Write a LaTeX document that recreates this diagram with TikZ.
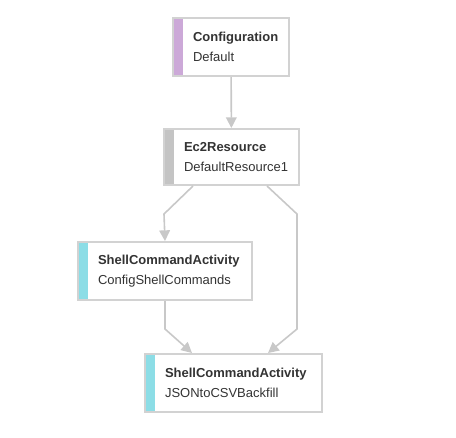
\documentclass[tikz,border=0pt]{standalone}
\usepackage{fontspec}
\setmainfont{Liberation Sans}
\usepackage{xcolor}
\usepackage{tikz}
\usetikzlibrary{arrows.meta}

\definecolor{boxline}{HTML}{D2D2D2}
\definecolor{wireline}{HTML}{C8C8C8}
\definecolor{txt}{HTML}{333333}
\definecolor{cfgstripe}{HTML}{CCA9D8}
\definecolor{resstripe}{HTML}{C4C4C4}
\definecolor{actstripe}{HTML}{8CDDE6}

\begin{document}
\begin{tikzpicture}[x=0.75pt, y=-0.75pt,
  box/.style={rectangle, draw=boxline, line width=1.5pt, fill=white, anchor=north west,
    inner xsep=15pt, inner ysep=0pt, minimum height=43.5pt, text width=#1, align=left,
    text=txt, font=\fontsize{9.75pt}{14.5pt}\selectfont},
  stripe/.style={path picture={\fill[#1] (path picture bounding box.north west)
    rectangle ([xshift=7.5pt]path picture bounding box.south west);}},
  arr/.style={-{Triangle[length=8pt, width=8pt, fill=wireline]}, draw=wireline, line width=1.2pt},
]
  \useasboundingbox (0,0) rectangle (456,437);

  % Configuration
  \node[box=57pt, stripe=cfgstripe] (cfg) at (172,17) {\textbf{Configuration}\\Default};

  % Resource
  \node[box=71.25pt, stripe=resstripe, minimum height=42pt] (ec2) at (163,128) {\textbf{Ec2Resource}\\DefaultResource1};

  % Activities
  \node[box=100.5pt, stripe=actstripe] (cmds) at (77,241) {\textbf{ShellCommandActivity}\\ConfigShellCommands};
  \node[box=102.75pt, stripe=actstripe] (backfill) at (144,353) {\textbf{ShellCommandActivity}\\JSONtoCSVBackfill};

  % Arrows
  \draw[arr] (cfg) -- (ec2);
  \draw[arr] ([shift={(30,0)}]ec2.south west) -- ++(-29,28) -- (cmds.north);
  \draw[arr] ([shift={(104,0)}]ec2.south west) -- ++(30,28) -- ++(0,115)
    -- ([shift={(124,0)}]backfill.north west);
  \draw[arr] (cmds.south) -- ++(0,28) -- ([shift={(48,0)}]backfill.north west);

\end{tikzpicture}
\end{document}
